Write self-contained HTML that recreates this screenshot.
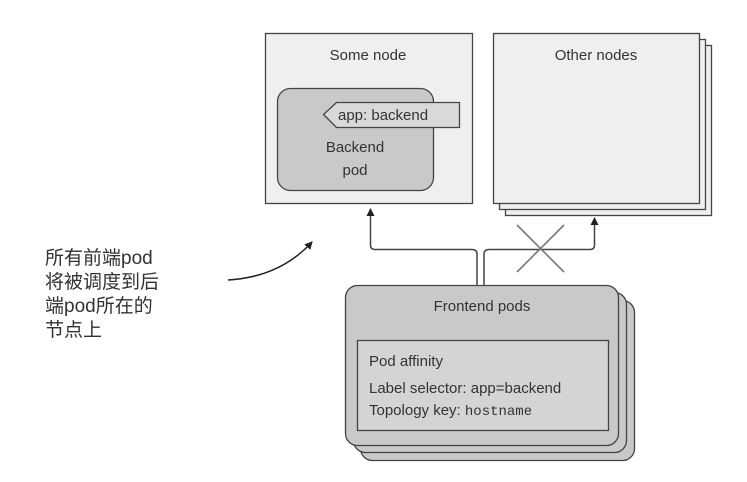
<!DOCTYPE html>
<html><head><meta charset="utf-8"><style>
html,body{margin:0;padding:0;background:#fff;width:747px;height:482px;overflow:hidden}
svg text{font-family:"Liberation Sans","Noto Sans CJK SC",sans-serif;fill:#333}
</style></head><body>
<svg width="747" height="482" viewBox="0 0 747 482" xmlns="http://www.w3.org/2000/svg">
<defs><marker id="a" markerWidth="8" markerHeight="8" refX="7" refY="4" orient="auto" markerUnits="userSpaceOnUse"><path d="M0,0 L8,4 L0,8 z" fill="#222"/></marker></defs>
<rect x="265.5" y="33.5" width="207" height="170" fill="#efefef" stroke="#444" stroke-width="1.3"/>
<text x="368" y="60" font-size="15" text-anchor="middle">Some node</text>
<rect x="277.5" y="88.5" width="156" height="102" rx="13" fill="#c9c9c9" stroke="#444" stroke-width="1.3"/>
<path d="M336.5,102.5 L459.5,102.5 L459.5,127.5 L336.5,127.5 L323.5,114.5 Z" fill="#d9d9d9" stroke="#444" stroke-width="1.3"/>
<text x="338" y="120" font-size="15">app: backend</text>
<text x="355" y="152" font-size="15" text-anchor="middle">Backend</text>
<text x="355" y="175" font-size="15" text-anchor="middle">pod</text>
<rect x="505.5" y="45.5" width="206" height="170" fill="#efefef" stroke="#444" stroke-width="1.3"/>
<rect x="499.5" y="39.5" width="206" height="170" fill="#efefef" stroke="#444" stroke-width="1.3"/>
<rect x="493.5" y="33.5" width="206" height="170" fill="#efefef" stroke="#444" stroke-width="1.3"/>
<text x="596" y="60" font-size="15" text-anchor="middle">Other nodes</text>
<path d="M477,286 V254 Q477,249.5 472,249.5 H375 Q370.5,249.5 370.5,245 V209" fill="none" stroke="#444" stroke-width="1.5" marker-end="url(#a)"/>
<path d="M484,286 V254 Q484,249.5 489,249.5 H590 Q594.5,249.5 594.5,245 V218" fill="none" stroke="#444" stroke-width="1.5" marker-end="url(#a)"/>
<path d="M517,225 L564,272 M564,225 L517,272" stroke="#777" stroke-width="1.6"/>
<rect x="360.5" y="300.5" width="274" height="160" rx="12" fill="#c9c9c9" stroke="#444" stroke-width="1.3"/>
<rect x="353.5" y="292.5" width="273" height="160" rx="12" fill="#c9c9c9" stroke="#444" stroke-width="1.3"/>
<rect x="345.5" y="285.5" width="273" height="160" rx="12" fill="#c9c9c9" stroke="#444" stroke-width="1.3"/>
<text x="482" y="311" font-size="15" text-anchor="middle">Frontend pods</text>
<rect x="357.5" y="340.5" width="251" height="90" fill="#d4d4d4" stroke="#444" stroke-width="1.3"/>
<text x="369" y="366" font-size="15">Pod affinity</text>
<text x="369" y="393" font-size="15">Label selector: app=backend</text>
<text x="369" y="415" font-size="15">Topology key: <tspan font-family="Liberation Mono,monospace" font-size="14">hostname</tspan></text>
<text x="45" y="264" font-size="19">所有前端pod</text>
<text x="45" y="288" font-size="19">将被调度到后</text>
<text x="45" y="312" font-size="19">端pod所在的</text>
<text x="45" y="336" font-size="19">节点上</text>
<path d="M228,280 Q280,277 312,242" fill="none" stroke="#222" stroke-width="1.5" marker-end="url(#a)"/>
</svg>
</body></html>
